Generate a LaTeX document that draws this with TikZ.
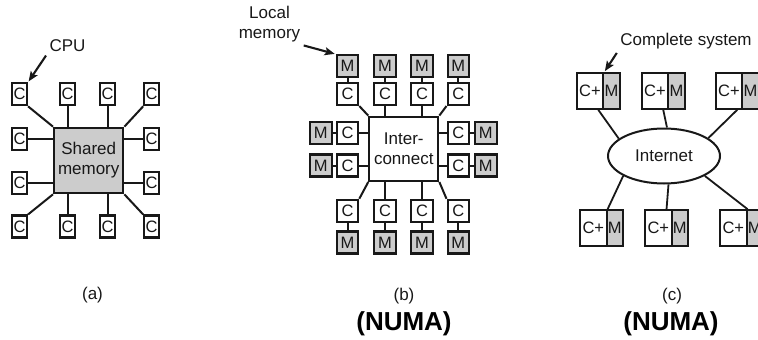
\documentclass[tikz,border=0pt]{standalone}
\usepackage{fontspec}
\setmainfont{Liberation Sans}
\usetikzlibrary{shapes.geometric,arrows.meta,fit,calc}
\definecolor{ink}{RGB}{24,24,24}
\definecolor{memfill}{RGB}{204,204,204}
\begin{document}
\begin{tikzpicture}[x=1pt,y=-1pt,
  font=\fontsize{17}{20}\selectfont, text=ink,
  box/.style={draw=ink, line width=2.1pt, fill=white, inner sep=0pt,
    font=\fontsize{16.5}{16.5}\selectfont},
  cbox/.style={box, minimum width=15pt, minimum height=22pt},
  bbox/.style={box, minimum width=21.5pt, minimum height=22pt},
  mbox/.style={bbox, fill=memfill},
  cpart/.style={box, minimum width=26.5pt, minimum height=35.5pt},
  mpart/.style={box, fill=memfill, minimum width=16.5pt, minimum height=35.5pt},
  whole/.style={inner sep=0pt},
  hub/.style={draw=ink, line width=2.1pt, inner sep=0pt, align=center},
  link/.style={draw=ink, line width=2pt},
  netlink/.style={draw=ink, line width=1.8pt},
  pointer/.style={draw=ink, line width=2.1pt,
    -{Stealth[length=10pt,width=8pt,inset=2pt]}, shorten >=1pt},
  caption/.style={font=\fontsize{17}{20}\selectfont},
  kind/.style={font=\fontsize{26}{28}\selectfont\bfseries, text=black}]

\useasboundingbox (0,0) rectangle (758,340);
\clip (0,0) rectangle (758,340);

% ---------- (a) shared memory multiprocessor ----------
\node[hub, fill=memfill, minimum width=69.3pt, minimum height=65.6pt] (mem) at (88.7,160.5) {Shared\\memory};
\node[cbox] (a11) at (19.5,94.3) {C};
\node[cbox] (a12) at (67.7,94.3) {C};
\node[cbox] (a13) at (107.7,94.3) {C};
\node[cbox] (a14) at (151.7,94.3) {C};
\node[cbox] (a21) at (19.5,139) {C};
\node[cbox] (a24) at (151.7,139) {C};
\node[cbox] (a31) at (19.5,183) {C};
\node[cbox] (a34) at (151.7,183) {C};
\node[cbox] (a41) at (19.5,226.5) {C};
\node[cbox] (a42) at (67.7,226.5) {C};
\node[cbox] (a43) at (107.7,226.5) {C};
\node[cbox] (a44) at (151.7,226.5) {C};

\draw[link] (a11.south east) -- (mem.north west);
\draw[link] (a14.south west) -- (mem.north east);
\draw[link] (a41.north east) -- (mem.south west);
\draw[link] (a44.north west) -- (mem.south east);
\draw[link] (a12.south) -- (a12.south |- mem.north);
\draw[link] (a13.south) -- (a13.south |- mem.north);
\draw[link] (a42.north) -- (a42.north |- mem.south);
\draw[link] (a43.north) -- (a43.north |- mem.south);
\draw[link] (a21.east) -- (a21.east -| mem.west);
\draw[link] (a31.east) -- (a31.east -| mem.west);
\draw[link] (a24.west) -- (a24.west -| mem.east);
\draw[link] (a34.west) -- (a34.west -| mem.east);

\node (cpu) at (67.5,46) {CPU};
\draw[pointer] (cpu.south west) -- (a11.north east);

\node[caption] (capa) at (92.5,295) {(a)};

% ---------- (b) CPUs with local memory on an interconnect ----------
\node[hub, fill=white, minimum width=69pt, minimum height=64.3pt] (ic) at (403.8,148.8) {Inter-\\connect};

\node[mbox] (mt1) at (347.5,66.2) {M};
\node[mbox] (mt2) at (385,66.2) {M};
\node[mbox] (mt3) at (422,66.2) {M};
\node[mbox] (mt4) at (458.3,66.2) {M};
\node[bbox] (ct1) at (347.5,94) {C};
\node[bbox] (ct2) at (385,94) {C};
\node[bbox] (ct3) at (422,94) {C};
\node[bbox] (ct4) at (458.3,94) {C};

\node[mbox] (ml1) at (320.8,132.8) {M};
\node[bbox] (cl1) at (347.5,132.8) {C};
\node[mbox] (ml2) at (320.8,165.5) {M};
\node[bbox] (cl2) at (347.5,165.5) {C};
\node[bbox] (cr1) at (458.3,132.8) {C};
\node[mbox] (mr1) at (485.8,132.8) {M};
\node[bbox] (cr2) at (458.3,165.5) {C};
\node[mbox] (mr2) at (485.8,165.5) {M};

\node[bbox] (cb1) at (347.5,210.8) {C};
\node[bbox] (cb2) at (385,210.8) {C};
\node[bbox] (cb3) at (422,210.8) {C};
\node[bbox] (cb4) at (458.3,210.8) {C};
\node[mbox] (mb1) at (347.5,242.5) {M};
\node[mbox] (mb2) at (385,242.5) {M};
\node[mbox] (mb3) at (422,242.5) {M};
\node[mbox] (mb4) at (458.3,242.5) {M};

% memory to CPU links
\draw[link] (mt1) -- (ct1);
\draw[link] (mt2) -- (ct2);
\draw[link] (mt3) -- (ct3);
\draw[link] (mt4) -- (ct4);
\draw[link] (ml1) -- (cl1);
\draw[link] (ml2) -- (cl2);
\draw[link] (cr1) -- (mr1);
\draw[link] (cr2) -- (mr2);
\draw[link] (cb1) -- (mb1);
\draw[link] (cb2) -- (mb2);
\draw[link] (cb3) -- (mb3);
\draw[link] (cb4) -- (mb4);

% CPU to interconnect links
\draw[link] (ct1.south east) -- (ic.north west);
\draw[link] (ct4.south west) -- (ic.north east);
\draw[link] (cb1.north east) -- (ic.south west);
\draw[link] (cb4.north west) -- (ic.south east);
\draw[link] (ct2.south) -- (ct2.south |- ic.north);
\draw[link] (ct3.south) -- (ct3.south |- ic.north);
\draw[link] (cb2.north) -- (cb2.north |- ic.south);
\draw[link] (cb3.north) -- (cb3.north |- ic.south);
\draw[link] (cl1.east) -- (cl1.east -| ic.west);
\draw[link] (cl2.east) -- (cl2.east -| ic.west);
\draw[link] (cr1.west) -- (cr1.west -| ic.east);
\draw[link] (cr2.west) -- (cr2.west -| ic.east);

\node[align=center] (lm) at (269.5,24) {Local\\memory};
\draw[pointer] (lm.south east) -- (mt1.north west);

\node[caption] (capb) at (404,296) {(b)};
\node[kind] (numab) at (404,324) {(NUMA)};

% ---------- (c) complete systems on the Internet ----------
\node[draw=ink, line width=2pt, ellipse, minimum width=112pt, minimum height=55pt, inner sep=0pt] (net) at (664,156) {Internet};

\node[cpart] (tac) at (590,90.8) {C+};
\node[mpart] (tam) at (611.5,90.8) {M};
\node[cpart] (tbc) at (655,90.8) {C+};
\node[mpart] (tbm) at (676.5,90.8) {M};
\node[cpart] (tcc) at (729,90.8) {C+};
\node[mpart] (tcm) at (750.5,90.8) {M};
\node[cpart] (bac) at (593.3,228) {C+};
\node[mpart] (bam) at (614.8,228) {M};
\node[cpart] (bbc) at (658.3,228) {C+};
\node[mpart] (bbm) at (679.8,228) {M};
\node[cpart] (bcc) at (733.3,228) {C+};
\node[mpart] (bcm) at (754.8,228) {M};

\node[whole, fit=(tac)(tam)] (ta) {};
\node[whole, fit=(tbc)(tbm)] (tb) {};
\node[whole, fit=(tcc)(tcm)] (tc) {};
\node[whole, fit=(bac)(bam)] (ba) {};
\node[whole, fit=(bbc)(bbm)] (bb) {};
\node[whole, fit=(bcc)(bcm)] (bc) {};

\draw[netlink] (ta.south) -- (net.159);
\draw[netlink] (tb.south) -- (net.84);
\draw[netlink] (tc.south) -- (net.22);
\draw[netlink] (bac.north east) -- (net.206);
\draw[netlink] (bb.north) -- (net.279);
\draw[netlink] (bcc.north east) -- (net.334);

\node (cs) at (686,41.5) {Complete system};
\draw[pointer] (cs.south west) -- (tac.north east);

\node[caption] (capc) at (672,296) {(c)};
\node[kind] (numac) at (671,324) {(NUMA)};

\end{tikzpicture}
\end{document}
